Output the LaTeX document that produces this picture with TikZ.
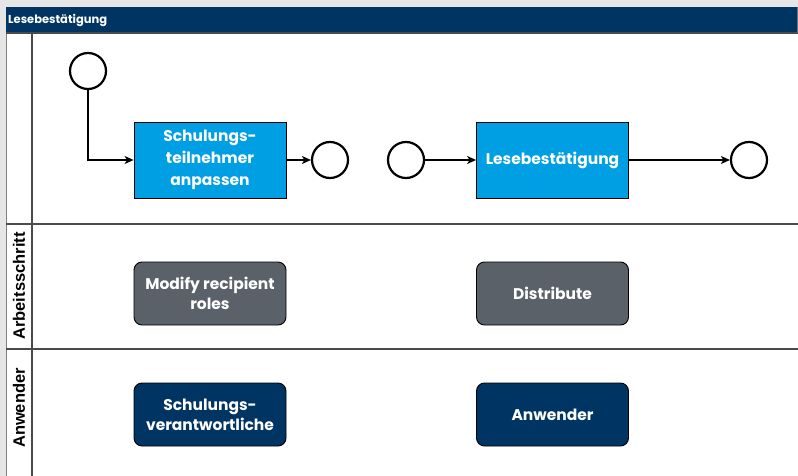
\documentclass[tikz,border=0pt]{standalone}
\usepackage{fontspec}
\setmainfont{Poppins}
\newfontfamily\lanefont{Liberation Sans}
\usetikzlibrary{arrows.meta}
\definecolor{hdrblue}{HTML}{003463}
\definecolor{taskblue}{HTML}{009FE3}
\definecolor{stepgray}{HTML}{5B6169}
\definecolor{rolblue}{HTML}{003463}
\definecolor{framegray}{HTML}{E6E6E6}
\definecolor{lanegray}{HTML}{4A4A4A}
\tikzset{
  lane/.style={draw=lanegray, line width=1.6pt},
  task/.style={draw=black, line width=0.9pt, fill=taskblue, minimum width=152pt, minimum height=76pt,
    text=white, font=\fontsize{15.5}{22}\selectfont\bfseries, align=center, inner sep=0pt},
  stepbox/.style={draw=black, line width=0.9pt, fill=stepgray, rounded corners=8pt, minimum width=152pt, minimum height=63pt,
    text=white, font=\fontsize{15.5}{20}\selectfont\bfseries, align=center, inner sep=0pt},
  rolebox/.style={stepbox, fill=rolblue},
  event/.style={circle, draw=black, line width=2.2pt, minimum size=36pt, inner sep=0pt},
  flow/.style={line width=1.2pt, -{Stealth[length=9pt,width=8pt,inset=2.5pt]}},
  lanelabel/.style={rotate=90, font=\lanefont\fontsize{16.5}{18}\selectfont\bfseries, inner sep=0pt}
}
\begin{document}
\begin{tikzpicture}[x=1pt,y=-1pt]
\useasboundingbox (0,0) rectangle (798,476);
% outer frame
\fill[framegray] (0,0) rectangle (798,476);
\fill[white] (6,7) rectangle (798,476);
\draw[lanegray!70, line width=0.8pt] (6,7) -- (6,476);
% header
\fill[hdrblue] (6,7) rectangle (797,33);
\draw[lanegray, line width=1.6pt] (6,33) -- (798,33);
\draw[lanegray!80, line width=1pt] (797,7) -- (797,33);
\node[anchor=west, text=white, font=\fontsize{11.5}{14}\selectfont\bfseries, inner sep=0pt] (title) at (8,20) {Lesebestätigung};
% lanes
\draw[lane] (32,33) -- (32,476);
\draw[lane] (6,224) -- (798,224);
\draw[lane] (6,349) -- (798,349);
\node[lanelabel] (l2) at (19,286) {Arbeitsschritt};
\node[lanelabel] (l3) at (19,408) {Anwender};
% process lane
\node[event] (s1) at (88,71) {};
\node[task] (t1) at (210,160) {Schulungs-\\teilnehmer\\anpassen};
\node[event] (e1) at (330,160) {};
\node[event] (s2) at (406,160) {};
\node[task] (t2) at (552.5,160) {Lesebestätigung};
\node[event] (e2) at (749,160) {};
\draw[flow] (s1) |- (t1);
\draw[flow] (t1) -- (e1);
\draw[flow] (s2) -- (t2);
\draw[flow] (t2) -- (e2);
% step lane
\node[stepbox] (a1) at (210,293.5) {Modify recipient\\roles};
\node[stepbox] (a2) at (552.5,293.5) {Distribute};
% role lane
\node[rolebox] (r1) at (210,414.5) {Schulungs-\\verantwortliche};
\node[rolebox] (r2) at (552.5,414.5) {Anwender};
\end{tikzpicture}
\end{document}
